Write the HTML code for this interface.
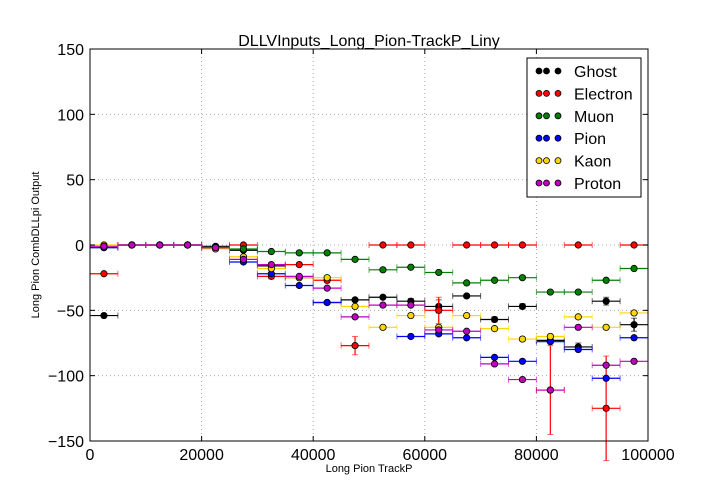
<!DOCTYPE html>
<html><head><meta charset="utf-8"><style>
html,body{margin:0;padding:0;background:#fff;}
svg{display:block;font-family:"Liberation Sans","DejaVu Sans",sans-serif;}
</style></head><body>
<svg id="chart" width="720" height="504"></svg>
<script>
const binCenters=[2500,7500,12500,17500,22500,27500,32500,37500,42500,47500,52500,57500,62500,67500,72500,77500,82500,87500,92500,97500];
const seriesNames=["Ghost","Electron","Muon","Pion","Kaon","Proton"];
const seriesColors=["#000000","#ff0000","#008000","#0000ff","#ffd700","#bf00bf"];
const ghostVals=[-54,0,0,0,-1,-4,-16,-25,-44,-42,-40,-43,-47,-39,-57,-47,-73,-78,-43,-61];
const electronVals=[-22,0,0,0,-2,0,-24,-15,-27,-77,0,0,-50,0,0,0,-111,0,-125,0];
const muonVals=[-2,0,0,0,-2,-3,-5,-6,-6,-11,-19,-17,-21,-29,-27,-25,-36,-36,-27,-18];
const pionVals=[-2,0,0,0,-2,-13,-22,-31,-44,null,null,-70,-68,-71,-86,-89,-74,-80,-102,-71];
const kaonVals=[0,0,0,0,-3,-9,-18,-25,-25,-47,-63,-54,-63,-54,-64,-72,-70,-55,-63,-52];
const protonVals=[-1,0,0,0,-2,-11,-15,-24,-33,-55,-46,-46,-65,-66,-91,-103,-111,-63,-92,-89];
const ghostErr=[0,0,0,0,0,0,1,1,1,1,1,2,5,1,2,2,2,3,3,5];
const electronErr=[0,0,0,0,0,0,2,1,2,7,0,0,10,0,0,0,34,0,40,0];
const zeroErr=[0,0,0,0,0,0,0,0,0,0,0,0,0,0,0,0,0,0,0,0];
const allVals=[ghostVals,electronVals,muonVals,pionVals,kaonVals,protonVals];
const allErr=[ghostErr,electronErr,zeroErr,zeroErr,zeroErr,zeroErr];
const xTicks=[0,20000,40000,60000,80000,100000];
const yTicks=[-150,-100,-50,0,50,100,150];
const binHalf=2500;

const L=90,R=648,T=49,B=441;
const sx=v=>L+(v-0)/(100000)*(R-L);
const sy=v=>B-(v+150)/300*(B-T);
const NS="http://www.w3.org/2000/svg";
const svg=document.getElementById('chart');
function mk(tag,attrs,parent){const e=document.createElementNS(NS,tag);for(const k in attrs)e.setAttribute(k,attrs[k]);(parent||svg).appendChild(e);return e;}

const grid=mk('g',{});


xTicks.forEach(t=>{if(t>0&&t<100000)mk('line',{x1:sx(t),x2:sx(t),y1:T,y2:B,stroke:'#aaa','stroke-dasharray':'1,3'},grid);});
yTicks.forEach(t=>{if(t>-150&&t<150)mk('line',{x1:L,x2:R,y1:sy(t),y2:sy(t),stroke:'#aaa','stroke-dasharray':'1,3'},grid);});

const plot=mk('g',{});


allVals.forEach((vals,si)=>{
  const c=seriesColors[si];
  const g=mk('g',{},plot);
  
  
  vals.forEach((v,i)=>{
    if(v===null)return;
    const x=binCenters[i],y=sy(v),e=allErr[si][i];
    mk('line',{x1:sx(x-binHalf),x2:sx(x+binHalf),y1:y,y2:y,stroke:c,'stroke-width':1.2},g);
    mk('line',{x1:sx(x-binHalf),x2:sx(x-binHalf),y1:y-3,y2:y+3,stroke:c,'stroke-width':1,'opacity':0.6},g);
    mk('line',{x1:sx(x+binHalf),x2:sx(x+binHalf),y1:y-3,y2:y+3,stroke:c,'stroke-width':1,'opacity':0.6},g);
    if(e>0){
      mk('line',{x1:sx(x),x2:sx(x),y1:sy(v+e),y2:sy(v-e),stroke:c,'stroke-width':1.2},g);
      mk('line',{x1:sx(x)-3,x2:sx(x)+3,y1:sy(v+e),y2:sy(v+e),stroke:c,'opacity':0.6},g);
      mk('line',{x1:sx(x)-3,x2:sx(x)+3,y1:sy(v-e),y2:sy(v-e),stroke:c,'opacity':0.6},g);
    }
    const m=mk('circle',{cx:sx(x),cy:y,r:3.2,fill:c,stroke:'#000','stroke-width':0.8},g);
    
    
  });
});

mk('rect',{x:L,y:T,width:R-L,height:B-T,fill:'none',stroke:'#000','stroke-width':1});

const xa=mk('g',{});


xTicks.forEach(t=>{
  mk('line',{x1:sx(t),x2:sx(t),y1:B,y2:B-5,stroke:'#000'},xa);
  mk('line',{x1:sx(t),x2:sx(t),y1:T,y2:T+5,stroke:'#000'},xa);
  const tx=mk('text',{x:sx(t),y:B+19,'font-size':16,'text-anchor':'middle'},xa);tx.textContent=t;
});
const ya=mk('g',{});


yTicks.forEach(t=>{
  mk('line',{x1:L,x2:L+5,y1:sy(t),y2:sy(t),stroke:'#000'},ya);
  mk('line',{x1:R,x2:R-5,y1:sy(t),y2:sy(t),stroke:'#000'},ya);
  const tx=mk('text',{x:L-6,y:sy(t)+6,'font-size':16,'text-anchor':'end'},ya);tx.textContent=t===0?'0':(t<0?'\u2212'+(-t):t);
});
const xl=mk('text',{x:(L+R)/2,y:472,'font-size':11,'text-anchor':'middle'});xl.textContent='Long Pion TrackP';

const yl=mk('text',{x:0,y:0,'font-size':11,'text-anchor':'middle',transform:`translate(39,${(T+B)/2}) rotate(-90)`});yl.textContent='Long Pion CombDLLpi Output';

const ti=mk('text',{x:(L+R)/2,y:46,'font-size':16,'text-anchor':'middle'});ti.textContent='DLLVInputs_Long_Pion-TrackP_Liny';


const lg=mk('g',{});


mk('rect',{x:527,y:58,width:114,height:139,fill:'#fff',stroke:'#000'},lg);
seriesNames.forEach((n,i)=>{
  const y=71+i*22.4;
  const e=mk('g',{},lg);
  
  
  [539,546.5,558].forEach(x=>mk('circle',{cx:x,cy:y,r:3,fill:seriesColors[i],stroke:'#000','stroke-width':0.8},e));
  const t=mk('text',{x:574,y:y+6,'font-size':16},e);t.textContent=n;
});
</script>
</body></html>
